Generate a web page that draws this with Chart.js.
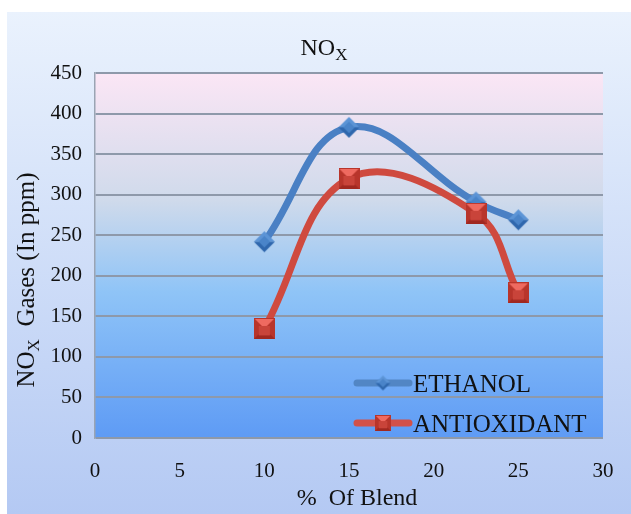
<!DOCTYPE html>
<html>
<head>
<meta charset="utf-8">
<script src="https://cdn.jsdelivr.net/npm/chart.js@4.4.0/dist/chart.umd.min.js"></script>
<style>
  html, body { margin: 0; padding: 0; background: #fff; }
  #wrap { width: 631px; height: 514px; }
</style>
</head>
<body>
<div id="wrap"><canvas id="noxChart" width="631" height="514"></canvas></div>
<script>
const blendPercent = [10, 15, 22.5, 25];
const ethanolNox = [242, 383, 291, 269];
const antioxidantNox = [135, 320, 277, 179];
const seriesNames = ['ETHANOL', 'ANTIOXIDANT'];
const xTickValues = [0, 5, 10, 15, 20, 25, 30];
const yTickValues = [0, 50, 100, 150, 200, 250, 300, 350, 400, 450];

const serif = '"Liberation Serif", "Times New Roman", serif';

// little 3D-ish markers like the office ones
function diamondMarker(size) {
    const c = document.createElement('canvas');
    c.width = size; c.height = size;
    const g = c.getContext('2d');
    const h = size / 2, e = size - 1;
    g.fillStyle = '#5c94d6';
    g.beginPath(); g.moveTo(1, h); g.lineTo(h, 1); g.lineTo(e, h); g.closePath(); g.fill();
    g.fillStyle = '#2f67ad';
    g.beginPath(); g.moveTo(1, h); g.lineTo(h, e); g.lineTo(e, h); g.closePath(); g.fill();
    const q = size / 4;
    g.fillStyle = '#4a84c9';
    g.beginPath(); g.moveTo(q, h); g.lineTo(h, q); g.lineTo(size - q, h); g.lineTo(h, size - q); g.closePath(); g.fill();
    return c;
}

function squareMarker(size) {
    const c = document.createElement('canvas');
    c.width = size; c.height = size;
    const g = c.getContext('2d');
    const h = size / 2;
    g.fillStyle = '#b8352b';
    g.fillRect(0, 0, size, size);
    g.fillStyle = '#a02820';
    g.beginPath(); g.moveTo(0, size); g.lineTo(h, h); g.lineTo(size, size); g.closePath(); g.fill();
    g.fillStyle = '#ef6a60';
    g.beginPath(); g.moveTo(1, 1); g.lineTo(size - 1, 1); g.lineTo(h, h); g.closePath(); g.fill();
    g.fillStyle = '#c9443a';
    g.fillRect(size * 0.23, size * 0.38, size * 0.54, size * 0.45);
    return c;
}

const markers = [diamondMarker(23), squareMarker(21)];
const legendMarkers = [diamondMarker(17), squareMarker(16)];
const lineColors = ['#4a80c4', '#cf4a3f'];
const legendLineColors = ['#5286c4', '#d25149'];

const backgroundPlugin = {
    id: 'backgrounds',
    beforeDraw(chart) {
        const ctx = chart.ctx;
        const a = chart.chartArea;
        ctx.save();
        ctx.fillStyle = '#ffffff';
        ctx.fillRect(0, 0, chart.width, chart.height);
        let g = ctx.createLinearGradient(0, 12, 0, chart.height);
        g.addColorStop(0, '#eaf2fd');
        g.addColorStop(1, '#b4c9f3');
        ctx.fillStyle = g;
        ctx.fillRect(7, 12, chart.width - 7, chart.height - 12);
        g = ctx.createLinearGradient(0, a.top, 0, a.bottom);
        g.addColorStop(0, '#fbe6f5');
        g.addColorStop(0.35, '#cfdaeb');
        g.addColorStop(0.6, '#8fc4f7');
        g.addColorStop(1, '#5e9bf5');
        ctx.fillStyle = g;
        ctx.fillRect(a.left, a.top, a.right - a.left, a.bottom - a.top);
        ctx.restore();
    }
};

// title, axis titles (with subscript X) and the legend inside the plot
const textPlugin = {
    id: 'texts',
    afterDatasetsDraw(chart) {
        const ctx = chart.ctx;
        ctx.save();
        ctx.fillStyle = '#111';
        ctx.textBaseline = 'alphabetic';

        // chart title
        ctx.font = '24px ' + serif;
        const wNO = ctx.measureText('NO').width;
        ctx.font = '17px ' + serif;
        const wX = ctx.measureText('X').width;
        let x0 = 324 - (wNO + wX) / 2;
        ctx.font = '24px ' + serif;
        ctx.textAlign = 'left';
        ctx.fillText('NO', x0, 55);
        ctx.font = '17px ' + serif;
        ctx.fillText('X', x0 + wNO, 60);

        // y title
        ctx.save();
        ctx.translate(34, 280);
        ctx.rotate(-Math.PI / 2);
        ctx.font = '25px ' + serif;
        const w1 = ctx.measureText('NO').width;
        const rest = '  Gases (In ppm)';
        const w3 = ctx.measureText(rest).width;
        ctx.font = '17px ' + serif;
        const w2 = ctx.measureText('X').width;
        let s = -(w1 + w2 + w3) / 2;
        ctx.font = '25px ' + serif;
        ctx.fillText('NO', s, 0);
        ctx.font = '17px ' + serif;
        ctx.fillText('X', s + w1, 5);
        ctx.font = '25px ' + serif;
        ctx.fillText(rest, s + w1 + w2, 0);
        ctx.restore();

        // x title
        ctx.font = '24px ' + serif;
        ctx.textAlign = 'center';
        ctx.fillText('%  Of Blend', 357, 505);

        // legend
        const rows = [383, 423];
        seriesNames.forEach((name, i) => {
            const y = rows[i];
            ctx.strokeStyle = legendLineColors[i];
            ctx.lineWidth = 7;
            ctx.lineCap = 'round';
            ctx.beginPath();
            ctx.moveTo(357, y);
            ctx.lineTo(409, y);
            ctx.stroke();
            const m = legendMarkers[i];
            ctx.drawImage(m, 383 - m.width / 2, y - m.height / 2);
            ctx.fillStyle = '#111';
            ctx.font = '25px ' + serif;
            ctx.textAlign = 'left';
            ctx.fillText(name, 413, y + 9);
        });
        ctx.restore();
    }
};

new Chart(document.getElementById('noxChart'), {
    type: 'scatter',
    data: {
        datasets: [{
            label: seriesNames[0],
            data: blendPercent.map((x, i) => ({ x: x, y: ethanolNox[i] })),
            showLine: true,
            tension: 0.4,
            borderColor: lineColors[0],
            borderWidth: 7,
            borderCapStyle: 'round',
            pointStyle: markers[0],
            order: 2
        }, {
            label: seriesNames[1],
            data: blendPercent.map((x, i) => ({ x: x, y: antioxidantNox[i] })),
            showLine: true,
            tension: 0.4,
            borderColor: lineColors[1],
            borderWidth: 7,
            borderCapStyle: 'round',
            pointStyle: markers[1],
            order: 1
        }]
    },
    options: {
        responsive: false,
        animation: false,
        devicePixelRatio: 1,
        layout: {
            padding: { top: 73, right: 28, left: 0, bottom: 0 }
        },
        plugins: {
            legend: { display: false },
            title: { display: false },
            tooltip: { enabled: false }
        },
        scales: {
            x: {
                type: 'linear',
                min: xTickValues[0],
                max: xTickValues[xTickValues.length - 1],
                afterBuildTicks: scale => { scale.ticks = xTickValues.map(v => ({ value: v })); },
                afterFit: scale => { scale.height = 76; },
                grid: { display: false },
                border: { display: false },
                ticks: {
                    padding: 13,
                    color: '#111',
                    font: { family: serif, size: 21 }
                }
            },
            y: {
                min: yTickValues[0],
                max: yTickValues[yTickValues.length - 1],
                afterBuildTicks: scale => { scale.ticks = yTickValues.map(v => ({ value: v })); },
                afterFit: scale => { scale.width = 95; },
                grid: { color: '#8e99aa', lineWidth: 2, drawTicks: false },
                border: { display: true, color: '#9aa4b3', width: 1.5 },
                ticks: {
                    padding: 13,
                    color: '#111',
                    font: { family: serif, size: 21 }
                }
            }
        }
    },
    plugins: [backgroundPlugin, textPlugin]
});
</script>
</body>
</html>
